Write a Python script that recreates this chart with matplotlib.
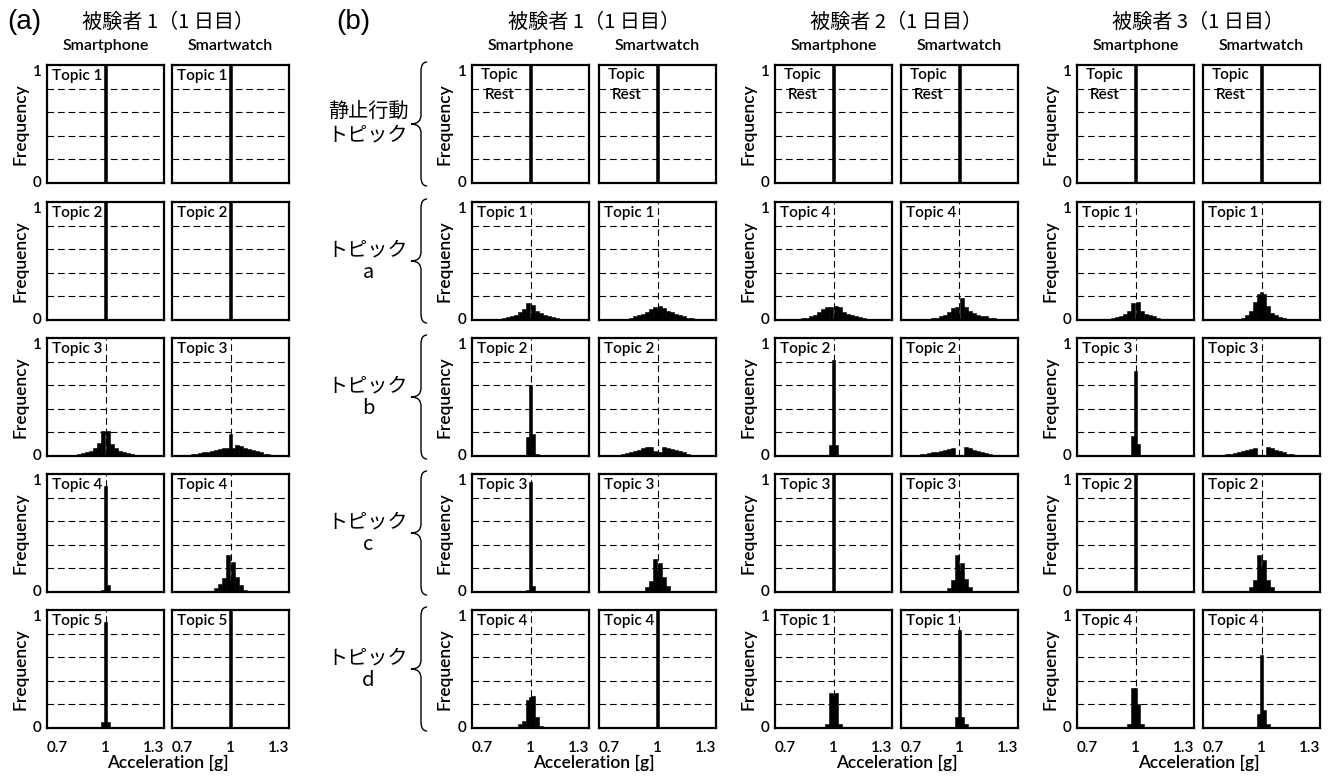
import matplotlib
matplotlib.use("Agg")
import matplotlib.pyplot as plt
from matplotlib.path import Path
from matplotlib.patches import PathPatch

# histogram bins (centre bin at 1 g is narrower)
bin_centers = [0.765, 0.785, 0.805, 0.825, 0.845, 0.865, 0.885, 0.905, 0.925, 0.945, 0.965, 0.985,
               1.0,
               1.015, 1.035, 1.055, 1.075, 1.095, 1.115, 1.135, 1.155, 1.175, 1.195, 1.215, 1.235]
bin_widths = [0.02] * 12 + [0.015] + [0.02] * 12

# frequencies, 12 left bins | centre | 12 right bins
FULL = [0, 0, 0, 0, 0, 0, 0, 0, 0, 0, 0, 0,
        1.0,
        0, 0, 0, 0, 0, 0, 0, 0, 0, 0, 0, 0]

a3_sp = [0, 0, .003, .006, .012, .02, .025, .03, .04, .065, .11, .21,
         .02,
         .21, .10, .065, .045, .035, .025, .02, .012, .006, 0, 0, 0]
a3_sw = [.005, .01, .015, .02, .025, .03, .035, .04, .05, .06, .07, .07,
         .19,
         .07, .09, .085, .07, .06, .05, .04, .03, .02, .015, .01, .005]
a4_sp = [0, 0, 0, 0, 0, 0, 0, 0, 0, 0, 0, .02,
         .90,
         .06, 0, 0, 0, 0, 0, 0, 0, 0, 0, 0, 0]
a4_sw = [0, 0, 0, 0, 0, 0, 0, .01, .03, .07, .12, .31,
         .10,
         .255, .13, .06, .02, 0, 0, 0, 0, 0, 0, 0, 0]
a5_sp = [0, 0, 0, 0, 0, 0, 0, 0, 0, 0, 0, .05,
         .90,
         .05, 0, 0, 0, 0, 0, 0, 0, 0, 0, 0, 0]

b1_a_sp = [0, 0, .004, .007, .012, .018, .025, .035, .046, .066, .095, .145,
           .02,
           .125, .08, .06, .045, .035, .025, .02, .012, .008, .005, 0, 0]
b1_a_sw = [0, 0, 0, .005, .01, .02, .03, .04, .055, .07, .09, .11,
           .09,
           .115, .10, .08, .065, .05, .04, .03, .02, .015, .01, .005, 0]
b1_b_sp = [0, 0, 0, 0, 0, 0, 0, 0, 0, 0, .01, .16,
           .60,
           .19, .02, 0, 0, 0, 0, 0, 0, 0, 0, 0, 0]
b1_b_sw = [0, .005, .01, .02, .025, .035, .045, .055, .065, .075, .08, .04,
           .03,
           .035, .075, .07, .06, .05, .04, .03, .02, .01, .005, 0, 0]
b1_c_sp = [0, 0, 0, 0, 0, 0, 0, 0, 0, 0, 0, .02,
           .93,
           .05, 0, 0, 0, 0, 0, 0, 0, 0, 0, 0, 0]
b1_c_sw = [0, 0, 0, 0, 0, 0, 0, 0, .01, .04, .09, .28,
           .18,
           .25, .13, .05, .01, 0, 0, 0, 0, 0, 0, 0, 0]
b1_d_sp = [0, 0, 0, 0, 0, 0, 0, 0, .01, .03, .06, .24,
           .26,
           .27, .09, .02, 0, 0, 0, 0, 0, 0, 0, 0, 0]

b2_a_sp = [0, 0, .004, .008, .015, .02, .035, .045, .07, .09, .11, .11,
           .01,
           .115, .11, .07, .05, .045, .03, .025, .02, .012, .008, .004, 0]
b2_a_sw = [0, 0, 0, .005, .01, .015, .02, .03, .045, .07, .10, .11,
           .01,
           .19, .11, .08, .06, .04, .035, .03, .02, .015, .01, .005, 0]
b2_b_sp = [0, 0, 0, 0, 0, 0, 0, 0, 0, 0, 0, .09,
           .81,
           .09, 0, 0, 0, 0, 0, 0, 0, 0, 0, 0, 0]
b2_b_sw = [.005, .01, .015, .02, .025, .03, .035, .04, .05, .06, .07, 0,
           0,
           0, .075, .065, .055, .045, .035, .025, .02, .01, .005, 0, 0]
b2_c_sw = [0, 0, 0, 0, 0, 0, 0, 0, 0, .03, .10, .31,
           .18,
           .25, .11, .04, .01, 0, 0, 0, 0, 0, 0, 0, 0]
b2_d_sp = [0, 0, 0, 0, 0, 0, 0, 0, 0, 0, .035, .30,
           .27,
           .30, .035, 0, 0, 0, 0, 0, 0, 0, 0, 0, 0]
b2_d_sw = [0, 0, 0, 0, 0, 0, 0, 0, 0, 0, 0, .09,
           .83,
           .09, .03, 0, 0, 0, 0, 0, 0, 0, 0, 0, 0]

b3_a_sp = [0, 0, 0, 0, .005, .01, .015, .025, .035, .05, .08, .14,
           .01,
           .155, .08, .055, .04, .03, .02, .012, .008, .005, 0, 0, 0]
b3_a_sw = [0, 0, 0, 0, 0, .005, .01, .02, .04, .08, .15, .22,
           .24,
           .22, .12, .06, .04, .025, .015, .008, 0, 0, 0, 0, 0]
b3_b_sp = [0, 0, 0, 0, 0, 0, 0, 0, 0, 0, .01, .17,
           .72,
           .10, .01, 0, 0, 0, 0, 0, 0, 0, 0, 0, 0]
b3_b_sw = [0, .005, .01, .015, .02, .025, .03, .04, .05, .06, .07, 0,
           0,
           0, .08, .065, .05, .04, .03, .02, .015, .01, .005, 0, 0]
b3_c_sw = [0, 0, 0, 0, 0, 0, 0, 0, .01, .04, .10, .31,
           .20,
           .27, .10, .04, .01, 0, 0, 0, 0, 0, 0, 0, 0]
b3_d_sp = [0, 0, 0, 0, 0, 0, 0, 0, 0, 0, .03, .34,
           .34,
           .20, .03, 0, 0, 0, 0, 0, 0, 0, 0, 0, 0]
b3_d_sw = [0, 0, 0, 0, 0, 0, 0, 0, 0, 0, .01, .12,
           .62,
           .15, .03, 0, 0, 0, 0, 0, 0, 0, 0, 0, 0]

labels_a = ["Topic 1", "Topic 2", "Topic 3", "Topic 4", "Topic 5"]
labels_b1 = ["Topic\nRest", "Topic 1", "Topic 2", "Topic 3", "Topic 4"]
labels_b2 = ["Topic\nRest", "Topic 4", "Topic 2", "Topic 3", "Topic 1"]
labels_b3 = ["Topic\nRest", "Topic 1", "Topic 3", "Topic 2", "Topic 4"]
row_names_b = ["静止行動\nトピック", "トピック\na", "トピック\nb", "トピック\nc", "トピック\nd"]
titles = ["被験者 1（1 日目）", "被験者 1（1 日目）", "被験者 2（1 日目）", "被験者 3（1 日目）"]
devices = ["Smartphone", "Smartwatch"]

groups = [
    ([FULL, FULL, a3_sp, a4_sp, a5_sp], [FULL, FULL, a3_sw, a4_sw, FULL], labels_a),
    ([FULL, b1_a_sp, b1_b_sp, b1_c_sp, b1_d_sp], [FULL, b1_a_sw, b1_b_sw, b1_c_sw, FULL], labels_b1),
    ([FULL, b2_a_sp, b2_b_sp, FULL, b2_d_sp], [FULL, b2_a_sw, b2_b_sw, b2_c_sw, b2_d_sw], labels_b2),
    ([FULL, b3_a_sp, b3_b_sp, FULL, b3_d_sp], [FULL, b3_a_sw, b3_b_sw, b3_c_sw, b3_d_sw], labels_b3),
]

# layout in pixels
W, H = 1333, 778
group_left = [(47, 172), (472, 599), (775, 901), (1077, 1203)]
row_top = [65, 202, 338, 474, 610]
PW, PH = 117, 118

LAT = ["Lato", "DejaVu Sans"]
JP = ["Noto Sans CJK JP", "DejaVu Sans"]
WT = "semibold"

fig = plt.figure(figsize=(W / 100, H / 100), dpi=100)


def fx(px):
    return px / W


def fy(py):
    return 1 - py / H


def panel(ax, heights, label, show_y, show_x):
    ax.bar(bin_centers, heights, width=bin_widths, color="black",
           edgecolor="black", linewidth=0.4, zorder=2)
    ax.set_xlim(0.7, 1.3)
    ax.set_ylim(0, 1)
    ax.xaxis.remove_overlapping_locs = False
    ax.set_xticks([0.7, 1.0, 1.3])
    ax.set_xticklabels(["0.7", "1", "1.3"])
    ax.set_xticks([1.0], minor=True)
    ax.set_yticks([0, 1])
    ax.set_yticklabels(["0", "1"])
    ax.set_yticks([0.2, 0.4, 0.6, 0.8], minor=True)
    ax.grid(which="minor", color="black", linewidth=0.8, linestyle=(0, (6, 3.5)))
    ax.tick_params(which="both", length=0, labelsize=11, pad=4)
    ax.tick_params(axis="x", pad=9)
    ax.tick_params(labelleft=show_y, labelbottom=show_x)
    for lab in ax.get_xticklabels() + ax.get_yticklabels():
        lab.set_family(LAT)
        lab.set_weight(WT)
    if show_x:
        xl = ax.get_xticklabels()
        xl[0].set_ha("left")
        xl[2].set_ha("right")
    if show_y:
        yl = ax.get_yticklabels()
        yl[0].set_va("center")
        yl[1].set_va("top")
    for s in ax.spines.values():
        s.set_linewidth(1.6)
    if "\n" in label:
        ax.text(0.235, 0.975, label, transform=ax.transAxes, ha="center", va="top",
                fontsize=11, family=LAT, weight=WT, linespacing=1.55, zorder=5)
    else:
        ax.text(0.04, 0.965, label, transform=ax.transAxes, ha="left", va="top",
                fontsize=11, family=LAT, weight=WT, zorder=5)


def brace(x_tip, x_mid, x_end, y0, y1, r=9):
    ym = (y0 + y1) / 2
    pts = [(x_end, y0), (x_mid, y0), (x_mid, y0 + r),
           (x_mid, ym - r), (x_mid, ym), (x_tip, ym),
           (x_mid, ym), (x_mid, ym + r),
           (x_mid, y1 - r), (x_mid, y1), (x_end, y1)]
    codes = [Path.MOVETO, Path.CURVE3, Path.CURVE3,
             Path.LINETO, Path.CURVE3, Path.CURVE3,
             Path.CURVE3, Path.CURVE3,
             Path.LINETO, Path.CURVE3, Path.CURVE3]
    verts = [(fx(x), fy(y)) for x, y in pts]
    fig.patches.append(PathPatch(Path(verts, codes), transform=fig.transFigure,
                                 fill=False, lw=1.0, edgecolor="black"))


for g, (sp_list, sw_list, labels) in enumerate(groups):
    left_sp, left_sw = group_left[g]
    for r in range(5):
        top = row_top[r]
        bottom_row = r == 4
        ax1 = fig.add_axes([fx(left_sp), fy(top + PH), PW / W, PH / H])
        panel(ax1, sp_list[r], labels[r], True, bottom_row)
        ax2 = fig.add_axes([fx(left_sw), fy(top + PH), PW / W, PH / H])
        panel(ax2, sw_list[r], labels[r], False, bottom_row)
        fig.text(fx(left_sp - 27), fy(top + PH / 2), "Frequency", rotation=90,
                 ha="center", va="center", fontsize=12.5, family=LAT, weight=WT)
    pair_c = (left_sp + left_sw + PW) / 2
    fig.text(fx(pair_c), fy(22), titles[g], ha="center", va="center",
             fontsize=14.5, family=JP)
    for k, lx in enumerate((left_sp, left_sw)):
        fig.text(fx(lx + PW / 2), fy(46), devices[k], ha="center", va="center",
                 fontsize=11.5, family=LAT, weight=WT)
    fig.text(fx(pair_c), fy(763), "Acceleration [g]", ha="center", va="center",
             fontsize=12.5, family=LAT, weight=WT)

# row labels and braces for (b)
for r in range(5):
    top = row_top[r]
    fig.text(fx(368), fy(top + PH / 2), row_names_b[r], ha="center", va="center",
             fontsize=14.5, family=JP, linespacing=1.1)
    brace(411, 421, 427, top - 3, top + PH + 3)

fig.text(fx(24), fy(22), "(a)", ha="center", va="center", fontsize=20,
         family=["Liberation Sans", "DejaVu Sans"])
fig.text(fx(353), fy(22), "(b)", ha="center", va="center", fontsize=20,
         family=["Liberation Sans", "DejaVu Sans"])

fig.savefig("out.png", dpi=100)
